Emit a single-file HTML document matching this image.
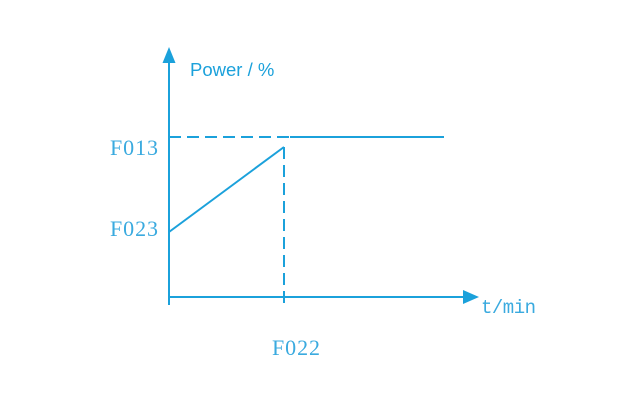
<!DOCTYPE html>
<html><head><meta charset="utf-8"><style>html,body{margin:0;padding:0;background:#fff;}svg{display:block}</style></head>
<body>
<svg width="624" height="406" viewBox="0 0 624 406" xmlns="http://www.w3.org/2000/svg">
<g stroke="#1ba1db" stroke-width="2" fill="none">
<line x1="169" y1="62" x2="169" y2="305"/>
<line x1="169" y1="297" x2="466" y2="297"/>
<line x1="169" y1="137" x2="290" y2="137" stroke-dasharray="12,6"/>
<line x1="290" y1="137" x2="444" y2="137"/>
<line x1="169" y1="232" x2="284" y2="147"/>
<line x1="284" y1="147" x2="284" y2="305" stroke-dasharray="12,6"/>
</g>
<polygon points="169,47 162.5,63 175.5,63" fill="#1ba1db"/>
<polygon points="479,297 463,290 463,304" fill="#1ba1db"/>
<g fill="#3aaadf">
<text x="190" y="76" font-family="Liberation Sans, sans-serif" font-size="18.5" fill="#1ba1db">Power / %</text>
<text x="110" y="155" font-family="Liberation Serif, serif" font-size="22" textLength="48">F013</text>
<text x="110" y="236" font-family="Liberation Serif, serif" font-size="22" textLength="48">F023</text>
<text x="272" y="355" font-family="Liberation Serif, serif" font-size="22" textLength="48">F022</text>
<text x="481" y="313" font-family="Liberation Mono, monospace" font-size="19" textLength="55">t/min</text>
</g>
</svg>
</body></html>
